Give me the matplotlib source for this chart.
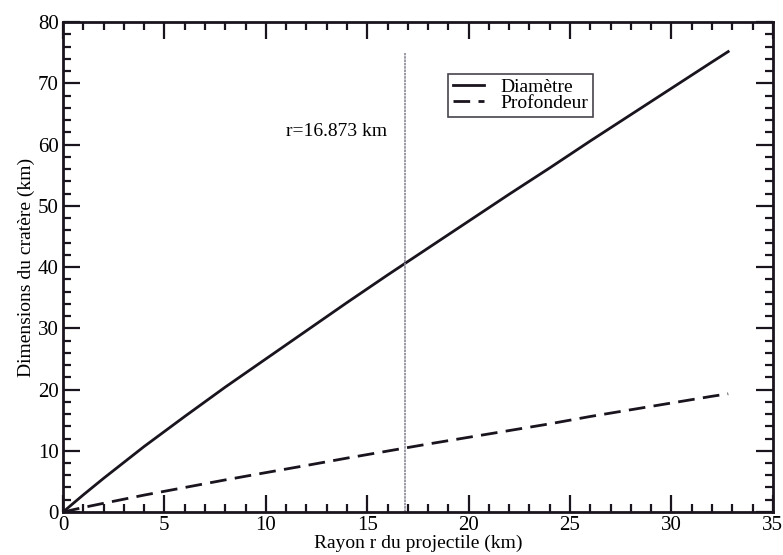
import matplotlib.pyplot as plt
from matplotlib.ticker import MultipleLocator

# rayon du projectile (km) et dimensions (km)
rayon = [0, 1, 2, 4, 6, 8, 10, 12, 14, 16, 18, 20, 22, 24, 26, 28, 30, 32, 32.8]
diametre = [0, 2.8, 5.5, 10.7, 15.6, 20.4, 25.0, 29.6, 34.2, 38.7, 43.1,
            47.5, 51.9, 56.2, 60.6, 64.9, 69.2, 73.5, 75.2]
profondeur = [0, 0.74, 1.42, 2.76, 4.0, 5.24, 6.43, 7.6, 8.8, 9.95, 11.1,
              12.2, 13.3, 14.4, 15.6, 16.7, 17.8, 18.9, 19.3]
r_lim = 16.873

plt.rcParams['font.family'] = ['Liberation Serif', 'DejaVu Serif']
plt.rcParams['font.size'] = 14

fig = plt.figure(figsize=(7.83, 5.55), dpi=100)
ax = fig.add_axes([0.0805, 0.0775, 0.9065, 0.8825])

ax.plot(rayon, diametre, color='#1a141e', lw=2.0, label='Diamètre')
ax.plot(rayon, profondeur, color='#1a141e', lw=2.0, dashes=(6, 3), label='Profondeur')
ax.plot([r_lim, r_lim], [0, 75], color='#8c8696', lw=1.2, ls=(0, (1.5, 0.5)))
ax.text(16.0, 62.2, 'r=%.3f km' % r_lim, ha='right', va='center', fontsize=14)

ax.set_xlim(0, 35)
ax.set_ylim(0, 80)
ax.xaxis.set_major_locator(MultipleLocator(5))
ax.xaxis.set_minor_locator(MultipleLocator(1))
ax.yaxis.set_major_locator(MultipleLocator(10))
ax.yaxis.set_minor_locator(MultipleLocator(2))
ax.tick_params(which='both', direction='in', top=True, right=True,
               width=1.6, color='#1a141e', labelsize=15)
ax.tick_params(which='major', length=12, pad=3)
ax.tick_params(which='minor', length=6)
for s in ax.spines.values():
    s.set_linewidth(2)
    s.set_color('#1a141e')

ax.set_xlabel('Rayon r du projectile (km)', fontsize=14, labelpad=0)
ax.set_ylabel('Dimensions du cratère (km)', fontsize=14, labelpad=2)

leg = ax.legend(loc='upper left', bbox_to_anchor=(0.543, 0.895), fontsize=14,
                frameon=True, fancybox=False, handlelength=1.6,
                borderpad=0.25, labelspacing=-0.1, handletextpad=0.8,
                borderaxespad=0)
leg.get_frame().set_edgecolor('#1a141e')
leg.get_frame().set_linewidth(1.2)

fig.savefig('out.png', dpi=100)
